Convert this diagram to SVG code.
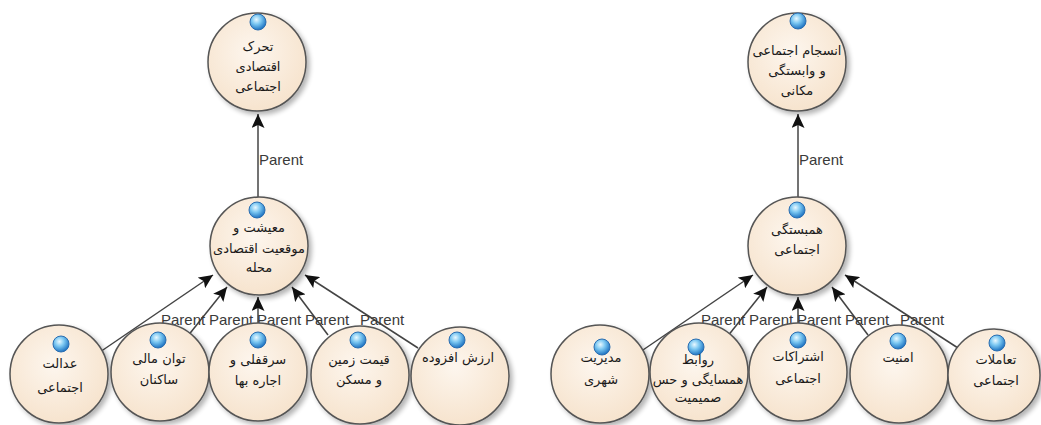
<svg xmlns="http://www.w3.org/2000/svg" width="1041" height="425" viewBox="0 0 1041 425">
<defs>
<radialGradient id="nodeFill" cx="45%" cy="40%" r="65%">
<stop offset="0" stop-color="#fdf6ee"/>
<stop offset="1" stop-color="#f6e2cb"/>
</radialGradient>
<radialGradient id="ball" cx="40%" cy="35%" r="65%">
<stop offset="0" stop-color="#e8f8ff"/>
<stop offset="0.45" stop-color="#7cc8f2"/>
<stop offset="1" stop-color="#1f74c2"/>
</radialGradient>
<filter id="shadow" x="-20%" y="-20%" width="150%" height="150%">
<feGaussianBlur in="SourceAlpha" stdDeviation="2.5"/>
<feOffset dx="3" dy="3" result="b"/>
<feComponentTransfer><feFuncA type="linear" slope="0.3"/></feComponentTransfer>
<feMerge><feMergeNode/><feMergeNode in="SourceGraphic"/></feMerge>
</filter>
<marker id="arrow" markerUnits="userSpaceOnUse" markerWidth="15" markerHeight="13" refX="14" refY="6.5" orient="auto">
<path d="M0,0 L14,6.5 L0,13 L3,6.5 z" fill="#111"/>
</marker>
</defs>
<style>
.node circle.body{fill:url(#nodeFill);stroke:#555;stroke-width:1.5;filter:url(#shadow)}
.node circle.ball{fill:url(#ball);stroke:#2a6db0;stroke-width:1}
.node text{font-family:"DejaVu Sans",sans-serif;font-size:13px;fill:#1a1a1a;text-anchor:middle;direction:rtl}
.edges line{stroke:#444;stroke-width:1.5;marker-end:url(#arrow)}
.edges text{font-family:"Liberation Sans",Arial,sans-serif;font-size:15px;fill:#3a3a3a}
</style>
<rect width="1041" height="425" fill="#ffffff"/>

<g class="edges" id="connectors">
<line x1="258" y1="198" x2="258" y2="114"/>
<line x1="100" y1="352" x2="213" y2="275"/>
<line x1="187" y1="337" x2="227" y2="287"/>
<line x1="258" y1="324" x2="258" y2="297"/>
<line x1="328" y1="335" x2="292" y2="287"/>
<line x1="418" y1="348" x2="305" y2="275"/>
<text x="259" y="165">Parent</text>
<text x="161" y="325">Parent</text>
<text x="209" y="325">Parent</text>
<text x="257" y="325">Parent</text>
<text x="305" y="325">Parent</text>
<text x="360" y="325">Parent</text>

<line x1="798" y1="198" x2="798" y2="114"/>
<line x1="640" y1="352" x2="753" y2="275"/>
<line x1="727" y1="337" x2="767" y2="287"/>
<line x1="798" y1="324" x2="798" y2="297"/>
<line x1="868" y1="335" x2="832" y2="287"/>
<line x1="958" y1="348" x2="845" y2="275"/>
<text x="799" y="165">Parent</text>
<text x="701" y="325">Parent</text>
<text x="749" y="325">Parent</text>
<text x="797" y="325">Parent</text>
<text x="845" y="325">Parent</text>
<text x="900" y="325">Parent</text>
</g>

<g class="node" id="n_tahrok">
<circle class="body" cx="257" cy="62" r="49"/>
<circle class="ball" cx="258" cy="22" r="8"/>
<text x="258" y="51">تحرک</text>
<text x="258" y="71">اقتصادی</text>
<text x="258" y="91">اجتماعی</text>
</g>
<g class="node" id="n_maishat">
<circle class="body" cx="259" cy="246" r="49"/>
<circle class="ball" cx="257" cy="210" r="8"/>
<text x="259" y="232">معیشت و</text>
<text x="259" y="253">موقعیت اقتصادی</text>
<text x="259" y="272">محله</text>
</g>
<g class="node" id="n_edalat">
<circle class="body" cx="59" cy="374" r="49"/>
<circle class="ball" cx="61" cy="344" r="8"/>
<text x="60" y="368">عدالت</text>
<text x="60" y="392">اجتماعی</text>
</g>
<g class="node" id="n_tavan">
<circle class="body" cx="160" cy="372" r="49"/>
<circle class="ball" cx="158" cy="340" r="8"/>
<text x="159" y="363">توان مالی</text>
<text x="159" y="384">ساکنان</text>
</g>
<g class="node" id="n_sarghofli">
<circle class="body" cx="258" cy="372" r="49"/>
<circle class="ball" cx="258" cy="340" r="8"/>
<text x="258" y="364">سرقفلی و</text>
<text x="258" y="385">اجاره بها</text>
</g>
<g class="node" id="n_gheymat">
<circle class="body" cx="360" cy="375" r="49"/>
<circle class="ball" cx="358" cy="340" r="8"/>
<text x="359" y="364">قیمت زمین</text>
<text x="359" y="384">و مسکن</text>
</g>
<g class="node" id="n_arzesh">
<circle class="body" cx="460" cy="376" r="49"/>
<circle class="ball" cx="457" cy="340" r="8"/>
<text x="458" y="362">ارزش افزوده</text>
</g>

<g class="node" id="n_ensejam">
<circle class="body" cx="797" cy="62" r="49"/>
<circle class="ball" cx="798" cy="21" r="8"/>
<text x="797" y="55">انسجام اجتماعی</text>
<text x="797" y="75">و وابستگی</text>
<text x="797" y="95">مکانی</text>
</g>
<g class="node" id="n_hambastegi">
<circle class="body" cx="797" cy="246" r="49"/>
<circle class="ball" cx="797" cy="210" r="8"/>
<text x="797" y="234">همبستگی</text>
<text x="797" y="254">اجتماعی</text>
</g>
<g class="node" id="n_modiriat">
<circle class="body" cx="600" cy="374" r="49"/>
<circle class="ball" cx="602" cy="347" r="8"/>
<text x="601" y="362">مدیریت</text>
<text x="601" y="384">شهری</text>
</g>
<g class="node" id="n_ravabet">
<circle class="body" cx="699" cy="372" r="49"/>
<circle class="ball" cx="696" cy="347" r="8"/>
<text x="698" y="364">روابط</text>
<text x="698" y="384">همسایگی و حس</text>
<text x="698" y="402">صمیمیت</text>
</g>
<g class="node" id="n_eshterakat">
<circle class="body" cx="798" cy="372" r="49"/>
<circle class="ball" cx="798" cy="340" r="8"/>
<text x="798" y="361">اشتراکات</text>
<text x="798" y="383">اجتماعی</text>
</g>
<g class="node" id="n_amniat">
<circle class="body" cx="899" cy="374" r="49"/>
<circle class="ball" cx="898" cy="341" r="8"/>
<text x="898" y="362">امنیت</text>
</g>
<g class="node" id="n_taamolat">
<circle class="body" cx="994" cy="375" r="46"/>
<circle class="ball" cx="997" cy="343" r="8"/>
<text x="996" y="364">تعاملات</text>
<text x="996" y="385">اجتماعی</text>
</g>
</svg>
